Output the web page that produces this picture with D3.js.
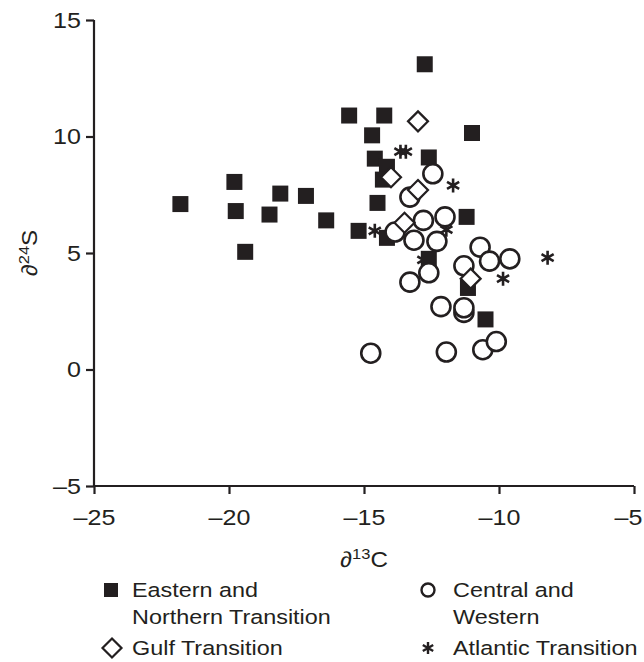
<!DOCTYPE html>
<html>
<head>
<meta charset="utf-8">
<script src="https://cdn.jsdelivr.net/npm/d3@7/dist/d3.min.js"></script>
<style>
  html, body { margin: 0; padding: 0; background: #fff; }
  svg { display: block; }
  text { font-family: "Liberation Sans", Arial, sans-serif; fill: #231f20; }
</style>
</head>
<body>
<svg id="chart" width="644" height="662"></svg>
<script>
// δ13C (x) and δ34S (y) per region group
const eastNorthX = [-21.8, -19.8, -19.75, -19.4, -18.1, -17.15, -18.5, -16.4, -15.55, -12.75,
  -14.25, -14.7, -11.0, -12.6, -14.6, -14.15, -14.3, -14.5, -15.2, -14.15,
  -12.6, -11.2, -11.15, -10.5];
const eastNorthY = [7.1, 8.05, 6.8, 5.05, 7.55, 7.45, 6.65, 6.4, 10.9, 13.1,
  10.9, 10.05, 10.15, 9.1, 9.05, 8.7, 8.15, 7.15, 5.95, 5.65,
  4.75, 6.55, 3.5, 2.15];

const centralWestX = [-12.45, -13.3, -12.8, -12.0, -13.85, -13.15, -12.3, -10.7, -10.35, -9.6,
  -11.3, -12.6, -13.3, -12.15, -11.3, -11.3, -14.75, -11.95, -10.6, -10.1];
const centralWestY = [8.4, 7.4, 6.4, 6.55, 5.9, 5.55, 5.5, 5.25, 4.65, 4.75,
  4.45, 4.15, 3.75, 2.7, 2.45, 2.65, 0.7, 0.75, 0.85, 1.2];

const gulfX = [-13.0, -14.0, -13.0, -13.5, -11.05];
const gulfY = [10.65, 8.25, 7.7, 6.3, 3.9];

const atlanticX = [-13.65, -13.45, -11.7, -14.6, -11.95, -12.8, -8.2, -9.85];
const atlanticY = [9.35, 9.35, 7.9, 5.95, 6.0, 4.7, 4.8, 3.9];

const xTicks = [-25, -20, -15, -10, -5];
const yTicks = [-5, 0, 5, 10, 15];

const legendLabels = {
  eastNorth: ["Eastern and", "Northern Transition"],
  centralWest: ["Central and", "Western"],
  gulf: ["Gulf Transition"],
  atlantic: ["Atlantic Transition"]
};

const ink = "#231f20";
const stretch = 1.2;   // horizontal widening of the lettering
const pageWidth = 644;
const svg = d3.select("#chart");

const x = d3.scaleLinear().domain([-25, -5]).range([94, 634]);
const y = d3.scaleLinear().domain([-5, 15]).range([486, 20]);

const fmt = d => (d < 0 ? "\u2013" + Math.abs(d) : String(d));

// Axes
const xAxis = svg.append("g")
  .attr("transform", `translate(0,${y(-5)})`)
  .call(d3.axisBottom(x).tickValues(xTicks).tickFormat(fmt).tickSize(8).tickPadding(15).tickSizeOuter(0));
const yAxis = svg.append("g")
  .attr("transform", `translate(${x(-25)},0)`)
  .call(d3.axisLeft(y).tickValues(yTicks).tickFormat(fmt).tickSize(8).tickPadding(7).tickSizeOuter(0));

[xAxis, yAxis].forEach(g => {
  g.select(".domain").attr("stroke", ink).attr("stroke-width", 2.2);
  g.selectAll(".tick line").attr("stroke", ink).attr("stroke-width", 2.2);
  g.selectAll(".tick text").attr("fill", ink).style("font-size", "22px")
    .style("font-family", "'Liberation Sans', Arial, sans-serif");
});
const tickStretch = stretch * 0.95;
xAxis.selectAll(".tick text").attr("transform", `scale(${tickStretch},1)`).attr("dy", "0.75em");
// the last label sits at the right edge of the page; keep it on the page
const lastTick = xTicks[xTicks.length - 1];
xAxis.selectAll(".tick text").filter(d => d === lastTick)
  .attr("text-anchor", "end")
  .attr("x", (pageWidth - 2 - x(lastTick)) / tickStretch);
yAxis.selectAll(".tick text").attr("x", -13 / tickStretch).attr("transform", `scale(${tickStretch},1)`);
// extend domain lines to meet at the corner
xAxis.select(".domain").attr("d", `M${x(-25) - 1},0H${x(-5)}`);
yAxis.select(".domain").attr("d", `M0,${y(15)}V${y(-5) + 1}`);

// Axis titles
const xt = svg.append("text")
  .attr("transform", `translate(${x(-15)},567) scale(1.1,1)`)
  .attr("text-anchor", "middle")
  .style("font-size", "22px");
xt.append("tspan").text("\u2202");
xt.append("tspan").attr("dy", -8).style("font-size", "15px").text("13");
xt.append("tspan").attr("dy", 8).text("C");

const yt = svg.append("text")
  .attr("transform", `translate(37,${y(5)}) rotate(-90) scale(1.1,1)`)
  .attr("text-anchor", "middle")
  .style("font-size", "22px");
yt.append("tspan").text("\u2202");
yt.append("tspan").attr("dy", -8).style("font-size", "15px").text("24");
yt.append("tspan").attr("dy", 8).text("S");

// Marker shapes
function diamondPath(r) {
  return `M0,${-r}L${r},0L0,${r}L${-r},0Z`;
}
function asteriskPath(r) {
  const parts = [];
  [90, 30, 150].forEach(a => {
    const rad = a * Math.PI / 180;
    const dx = r * Math.cos(rad), dy = r * Math.sin(rad);
    parts.push(`M${-dx},${-dy}L${dx},${dy}`);
  });
  return parts.join("");
}

const plot = svg.append("g");

// Atlantic Transition
plot.append("g").selectAll("path")
  .data(d3.zip(atlanticX, atlanticY))
  .join("path")
  .attr("transform", d => `translate(${x(d[0])},${y(d[1])})`)
  .attr("d", asteriskPath(7))
  .attr("stroke", ink).attr("stroke-width", 2.6).attr("fill", "none");

// Eastern and Northern Transition
const sq = 16;
plot.append("g").selectAll("rect")
  .data(d3.zip(eastNorthX, eastNorthY))
  .join("rect")
  .attr("x", d => x(d[0]) - sq / 2)
  .attr("y", d => y(d[1]) - sq / 2)
  .attr("width", sq).attr("height", sq)
  .attr("fill", ink);

// Central and Western
plot.append("g").selectAll("circle")
  .data(d3.zip(centralWestX, centralWestY))
  .join("circle")
  .attr("cx", d => x(d[0])).attr("cy", d => y(d[1]))
  .attr("r", 9.5)
  .attr("fill", "#fff").attr("stroke", ink).attr("stroke-width", 2.6);

// Gulf Transition
plot.append("g").selectAll("path")
  .data(d3.zip(gulfX, gulfY))
  .join("path")
  .attr("transform", d => `translate(${x(d[0])},${y(d[1])})`)
  .attr("d", diamondPath(10))
  .attr("fill", "#fff").attr("stroke", ink).attr("stroke-width", 2.2);

// Legend
const legend = svg.append("g").style("font-size", "19.5px");
function legendText(tx, ty, lines) {
  const t = legend.append("text").attr("transform", `translate(${tx},${ty}) scale(${stretch},1)`);
  lines.forEach((l, i) => t.append("tspan").attr("x", 0).attr("dy", i === 0 ? 0 : 27).text(l));
}

legend.append("rect").attr("x", 104).attr("y", 583).attr("width", 14).attr("height", 14).attr("fill", ink);
legendText(132, 597, legendLabels.eastNorth);

legend.append("path").attr("transform", "translate(112,648)").attr("d", diamondPath(9.5))
  .attr("fill", "#fff").attr("stroke", ink).attr("stroke-width", 2.2);
legendText(132, 655, legendLabels.gulf);

legend.append("circle").attr("cx", 428).attr("cy", 590).attr("r", 6.5)
  .attr("fill", "#fff").attr("stroke", ink).attr("stroke-width", 2.4);
legendText(453, 597, legendLabels.centralWest);

legend.append("path").attr("transform", "translate(428,648)").attr("d", asteriskPath(6))
  .attr("stroke", ink).attr("stroke-width", 2.4).attr("fill", "none");
legendText(453, 655, legendLabels.atlantic);
</script>
</body>
</html>
